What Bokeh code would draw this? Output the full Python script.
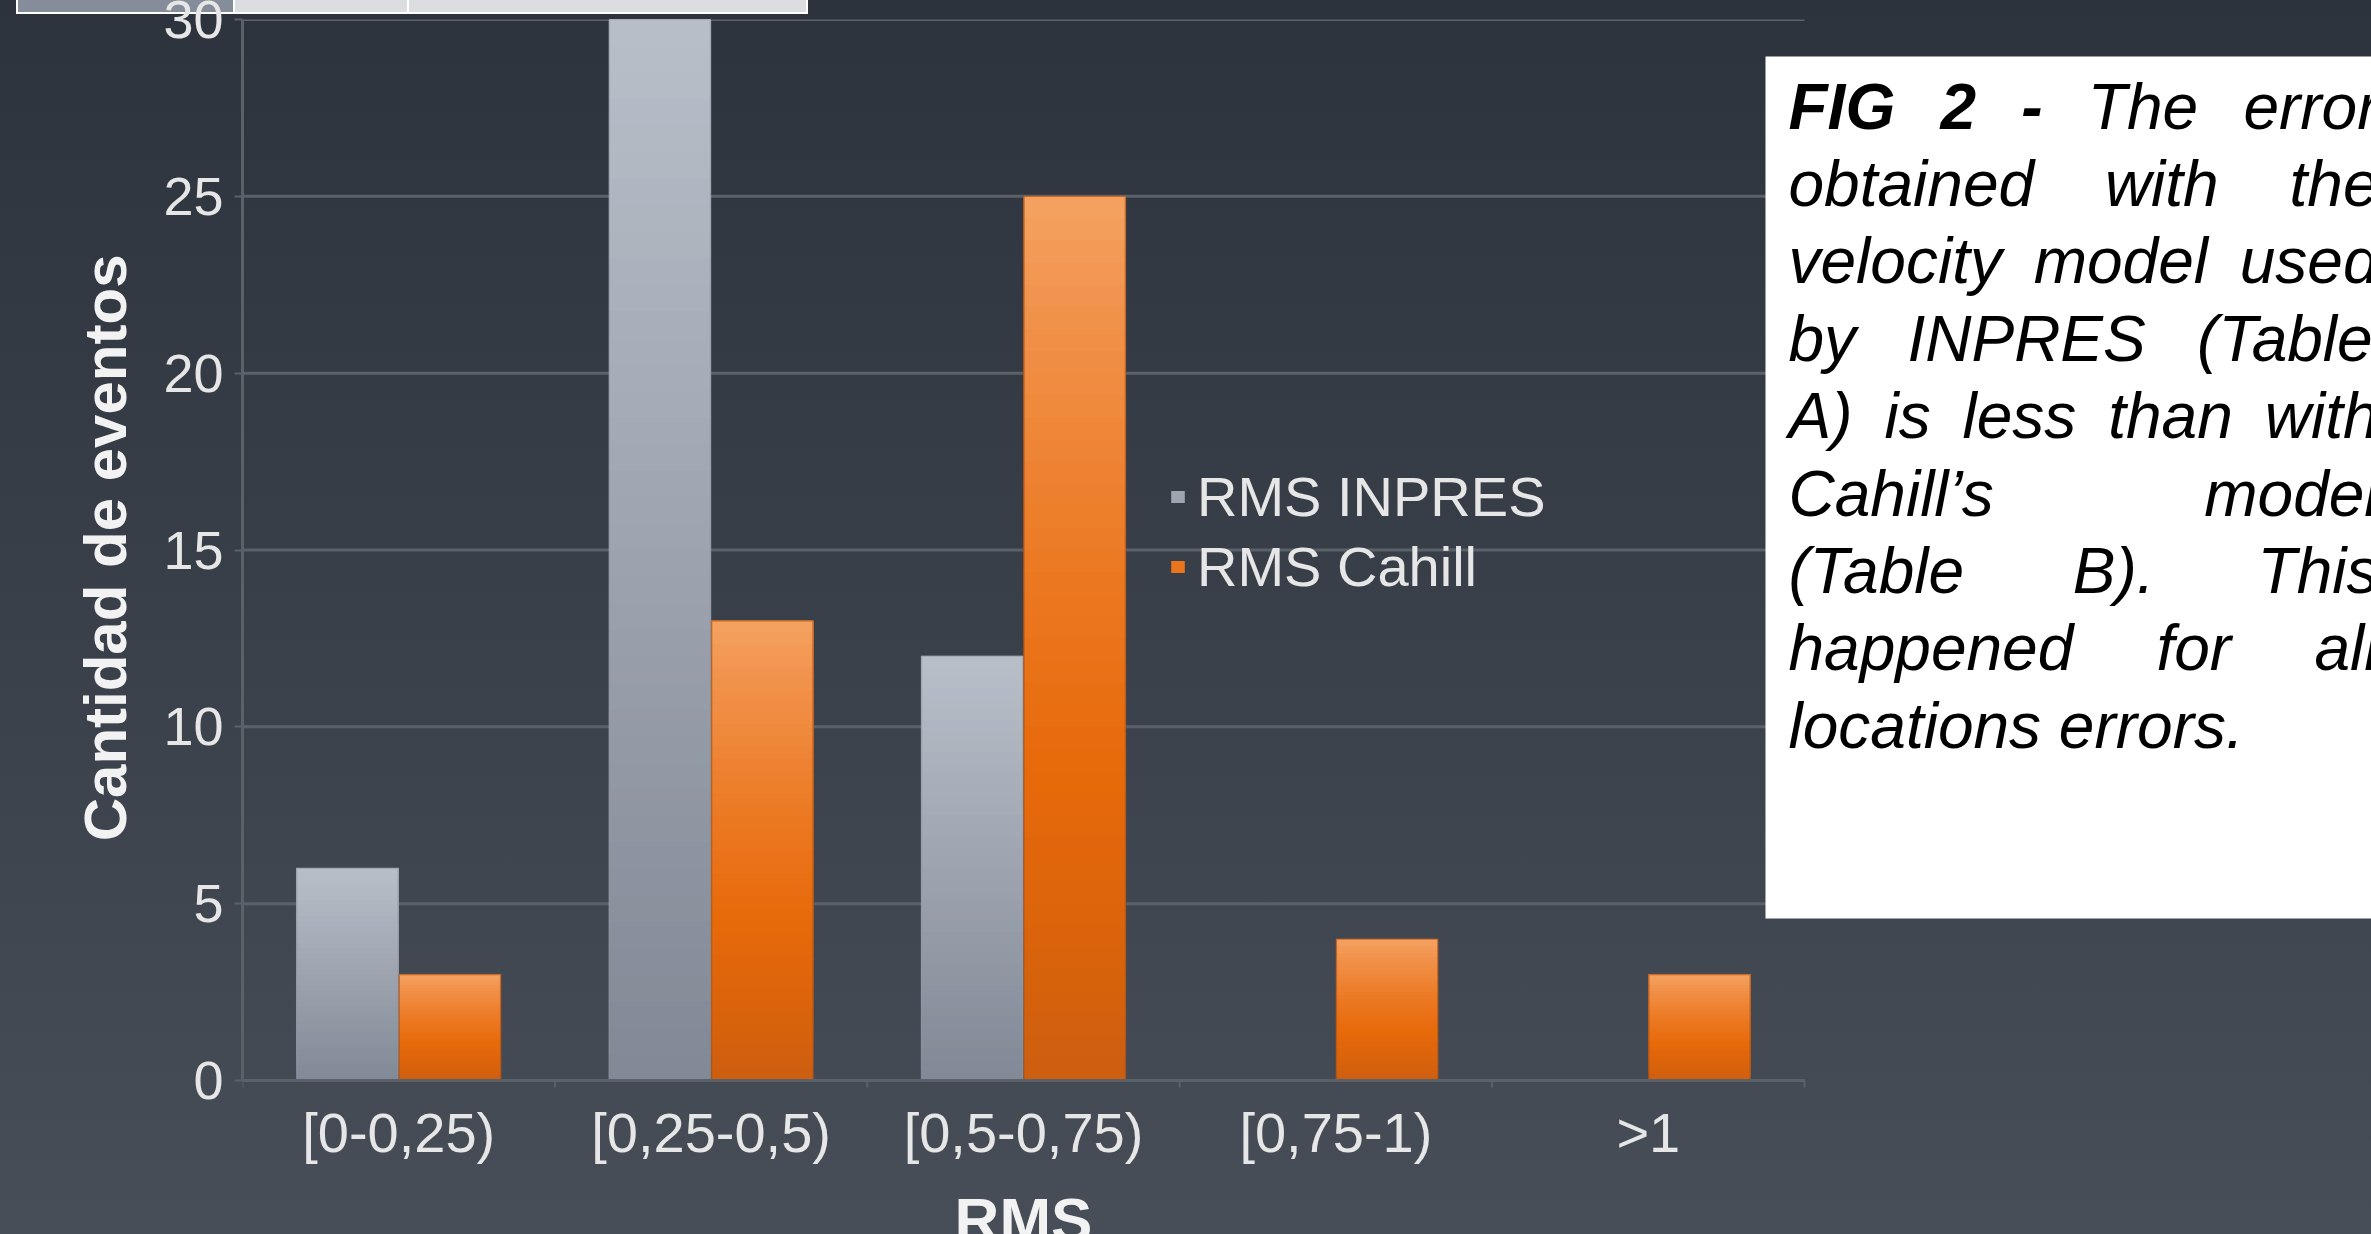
from bokeh.plotting import figure
from bokeh.models import (Range1d, FixedTicker, Legend, LegendItem, BoxAnnotation,
                          LabelSet, ColumnDataSource, Title)
from bokeh.core.properties import value
from bokeh.transform import dodge
from bokeh.embed import file_html
from bokeh.resources import INLINE

# ---------------- data ----------------
categories = ["[0-0,25)", "[0,25-0,5)", "[0,5-0,75)", "[0,75-1)", ">1"]
rms_inpres = [6, 30, 12, 0, 0]
rms_cahill = [3, 13, 25, 4, 3]
series_names = ["RMS INPRES", "RMS Cahill"]
y_ticks = [0, 5, 10, 15, 20, 25, 30]
x_title = "RMS"
y_title = "Cantidad de eventos"
caption_lines = ["FIG 2 - The error", "obtained with the", "velocity model used",
                 "by INPRES (Table", "A) is less than with", "Cahill\u2019s model",
                 "(Table B). This", "happened for all", "locations errors."]
caption_bold_words = 3  # "FIG", "2", "-"

# ---------------- layout (pixels) ----------------
W, H = 2371, 1234
AX_L, AX_R, AX_T, AX_B = 242, 1804, 19, 1080   # where the value axes lie
FONT = "Liberation Sans"
AX = "#5b6169"
TXT = "#e6e6e6"

n_cat = len(categories)
y_max = y_ticks[-1]
px_per_y = (AX_B - AX_T) / y_max
px_per_x = (AX_R - AX_L) / n_cat
centers = [i + 0.5 for i in range(n_cat)]
edges = list(range(n_cat + 1))

def sx(px):          # frame-relative screen x
    return px - AX_L

def sy(py):          # frame-relative screen y (upwards)
    return H - py

p = figure(width=W, height=H, output_backend="svg", toolbar_location=None,
           x_range=Range1d(0, (W - AX_L) / px_per_x),
           y_range=Range1d(-(H - AX_B) / px_per_y, y_max),
           x_axis_location=None,
           min_border_left=AX_L, min_border_right=0, min_border_top=AX_T,
           min_border_bottom=0)
bg_layers = [
    "linear-gradient(#858d9a,#858d9a) 18px 0 / 215px 12px no-repeat",
    "linear-gradient(#dcdde0,#dcdde0) 235px 0 / 172px 12px no-repeat",
    "linear-gradient(#dcdde0,#dcdde0) 409px 0 / 397px 12px no-repeat",
    "linear-gradient(#ffffff,#ffffff) 16px 0 / 792px 14px no-repeat",
    "linear-gradient(to bottom, #2d333c 0%, #3b414a 55%, #474e57 100%)",
]
p.styles = {"background": ", ".join(bg_layers)}
p.background_fill_alpha = 0
p.border_fill_alpha = 0
p.outline_line_color = None
p.xgrid.grid_line_color = None
p.ygrid.grid_line_color = None

# y axis
ya = p.yaxis[0]
ya.ticker = FixedTicker(ticks=y_ticks)
ya.bounds = (0, y_max)
ya.axis_line_color = AX
ya.axis_line_width = 3
ya.major_tick_line_color = AX
ya.major_tick_line_width = 2
ya.major_tick_out = 8
ya.major_tick_in = 0
ya.minor_tick_line_color = None
ya.major_label_text_font = FONT
ya.major_label_text_font_size = "54px"
ya.major_label_text_color = TXT
ya.major_label_standoff = 11

# y title, placed along the value span of the axis
p.add_layout(Title(text=y_title, align="right", offset=254 - AX_T, standoff=44,
                   text_font=FONT, text_font_style="bold", text_font_size="60px",
                   text_color="#f2f2f2"), "left")

# horizontal gridlines across the category span
p.segment(x0=[0] * len(y_ticks), x1=[n_cat] * len(y_ticks), y0=y_ticks, y1=y_ticks,
          line_color=AX, line_width=3)

# ---------------- bars with vertical gradient ----------------
def hex2rgb(h):
    h = h.lstrip("#")
    return tuple(int(h[i:i + 2], 16) for i in (0, 2, 4))

def color_at(stops, t):
    for (t0, c0), (t1, c1) in zip(stops, stops[1:]):
        if t0 <= t <= t1:
            f = 0 if t1 == t0 else (t - t0) / (t1 - t0)
            a, b = hex2rgb(c0), hex2rgb(c1)
            return "#%02x%02x%02x" % tuple(round(a[i] + (b[i] - a[i]) * f) for i in range(3))
    return stops[-1][1]

gray_stops = [(0.0, "#818996"), (1.0, "#b9bfc9")]
orange_stops = [(0.0, "#cd5e10"), (0.12, "#d8620c"), (0.35, "#e7690a"),
                (0.6, "#ec7b25"), (0.85, "#f19049"), (1.0, "#f4a261")]

BAR_W = 0.325
OFF = 0.164
N = 40
legend_renderers = []
for values, stops, off in ((rms_inpres, gray_stops, -OFF), (rms_cahill, orange_stops, OFF)):
    mid = None
    for k in range(N):
        f = k / N
        src = ColumnDataSource(dict(x=centers, top=values, bottom=[v * f for v in values]))
        r = p.vbar(x=dodge("x", off), top="top", bottom="bottom",
                   width=BAR_W, source=src, fill_color=color_at(stops, f + 0.5 / N),
                   line_color=None)
        if k == N // 2:
            mid = r
    legend_renderers.append(mid)

outline_src = ColumnDataSource(dict(x=centers, a=rms_inpres, b=rms_cahill))
p.vbar(x=dodge("x", -OFF), top="a", width=BAR_W, source=outline_src,
       fill_color=None, line_color="#9097a2", line_width=1.5, line_alpha=0.6)
p.vbar(x=dodge("x", OFF), top="b", width=BAR_W, source=outline_src,
       fill_color=None, line_color="#a9541c", line_width=1.5, line_alpha=0.7)

# ---------------- category axis (line, boundary ticks, labels, title) ----------------
p.segment(x0=[0], x1=[n_cat], y0=[0], y1=[0], line_color=AX, line_width=3)
tick_len = 7 / px_per_y
p.segment(x0=edges, x1=edges, y0=[0] * len(edges), y1=[-tick_len] * len(edges),
          line_color=AX, line_width=2)
p.text(x=centers, y=[0] * n_cat, text=categories, y_offset=52,
       text_align="center", text_baseline="alphabetic", text_font=value(FONT),
       text_font_size=value("56px"), text_color=TXT)
p.text(x=[n_cat / 2], y=[0], text=[x_title], y_offset=139,
       text_align="center", text_baseline="alphabetic", text_font=value(FONT),
       text_font_style="bold", text_font_size=value("62px"), text_color="#f2f2f2")

# ---------------- legend ----------------
legend = Legend(items=[LegendItem(label=series_names[0], renderers=[legend_renderers[0]]),
                       LegendItem(label=series_names[1], renderers=[legend_renderers[1]])],
                location=(sx(1169), sy(601)), orientation="vertical",
                background_fill_alpha=0, border_line_color=None, padding=0, margin=0,
                spacing=0, glyph_width=17, glyph_height=15, label_standoff=11,
                label_height=70, label_text_font=FONT, label_text_font_size="56px",
                label_text_color=TXT)
p.add_layout(legend)

# ---------------- caption box ----------------
p.add_layout(BoxAnnotation(left=sx(1765), right=sx(W + 40), bottom=sy(918), top=sy(56),
                           left_units="screen", right_units="screen",
                           top_units="screen", bottom_units="screen",
                           fill_color="#ffffff", fill_alpha=1, line_color=None,
                           level="annotation"))

ARIAL = {" ": 278, "(": 333, ")": 333, "\u2019": 222, ".": 278, "-": 333, "2": 556,
         "A": 667, "B": 667, "C": 722, "E": 667, "F": 611, "G": 778, "I": 278, "N": 722,
         "P": 667, "R": 722, "S": 667, "T": 611,
         "a": 556, "b": 556, "c": 500, "d": 556, "e": 556, "f": 278, "h": 556, "i": 222,
         "l": 222, "m": 833, "n": 556, "o": 556, "p": 556, "r": 333, "s": 500, "t": 278,
         "u": 556, "v": 500, "w": 722, "y": 500}
CAP_SIZE = 64
CAP_LEFT, CAP_RIGHT = 1788, 2378
BASE0, STEP = 128, 77.4

def tw(s):
    return sum(ARIAL.get(c, 556) for c in s) / 1000 * CAP_SIZE

reg = dict(x=[], y=[], text=[])
bold = dict(x=[], y=[], text=[])
widx = 0
for i, line in enumerate(caption_lines):
    words = line.split(" ")
    base = BASE0 + STEP * i
    if i == len(caption_lines) - 1:
        gap = tw(" ")
    else:
        gap = (CAP_RIGHT - CAP_LEFT - sum(tw(w) for w in words)) / (len(words) - 1)
    x = CAP_LEFT
    for w in words:
        d = bold if widx < caption_bold_words else reg
        d["x"].append(sx(x))
        d["y"].append(sy(base))
        d["text"].append(w)
        x += tw(w) + gap
        widx += 1

for d, style in ((reg, "italic"), (bold, "bold italic")):
    p.add_layout(LabelSet(x="x", y="y", text="text", source=ColumnDataSource(d),
                          x_units="screen", y_units="screen", text_font=value(FONT),
                          text_font_style=value(style), text_font_size=value(f"{CAP_SIZE}px"),
                          text_color=value("#000000"), text_baseline=value("alphabetic"),
                          text_align=value("left"), level="annotation"))

open("out.html", "w").write(file_html(p, INLINE))
